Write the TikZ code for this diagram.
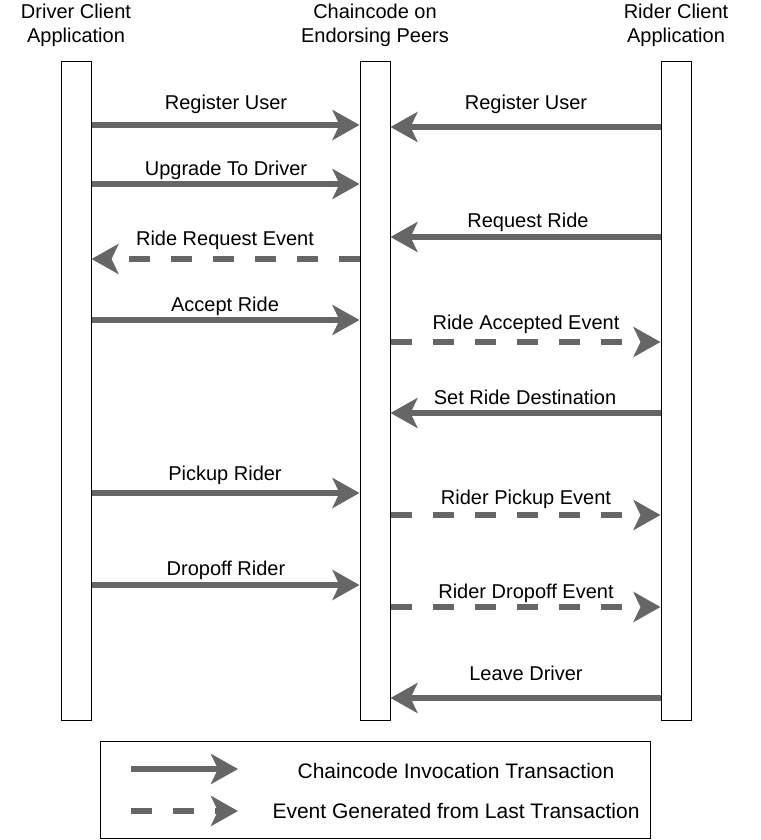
\documentclass[tikz,border=0pt]{standalone}
\usepackage{fontspec}
\setmainfont{Liberation Sans}
\usepackage{xcolor}
\usepackage{tikz}
\usetikzlibrary{arrows.meta,positioning}
\definecolor{flow}{HTML}{666666}

\begin{document}
\begin{tikzpicture}[
          x=1pt,y=-1pt,
          every node/.style={font=\fontsize{20}{24}\selectfont},
          life/.style={draw,line width=1pt,fill=white,minimum width=30pt,
                       minimum height=658pt,inner sep=0pt},
          head/.style={align=center,inner sep=0pt},
          lbl/.style={anchor=base,inner sep=0pt},
          key/.style={lbl,font=\fontsize{21}{25}\selectfont},
          call/.style={flow,line width=6pt,
                       -{Stealth[length=27pt,width=30pt,inset=7pt]}},
          event/.style={call,dash pattern=on 21pt off 21pt},
      ]
        \useasboundingbox (0,0) rectangle (760,840);

        % lifelines
        \node[life] (drv) at (76,391) {};
        \node[life] (cc) at (375,391) {};
        \node[life] (rdr) at (676,391) {};

        \node[head] (hdrv) at (76,25) {Driver Client\\Application};
        \node[head] (hcc) at (375,25) {Chaincode on\\Endorsing Peers};
        \node[head] (hrdr) at (676,25) {Rider Client\\Application};

        % messages
        \draw[call] (drv.east |- 0,125) -- (cc.west |- 0,125);
        \node[lbl] (m1) at (226,110) {Register User};
        \draw[call] (rdr.west |- 0,127) -- (cc.east |- 0,127);
        \node[lbl] (m2) at (526,110) {Register User};

        \draw[call] (drv.east |- 0,184) -- (cc.west |- 0,184);
        \node[lbl] (m3) at (226,175) {Upgrade To Driver};

        \draw[call] (rdr.west |- 0,237) -- (cc.east |- 0,237);
        \node[lbl] (m4) at (528,227) {Request Ride};
        \draw[event] (cc.west |- 0,259) -- (drv.east |- 0,259);
        \node[lbl] (m5) at (225,245) {Ride Request Event};

        \draw[call] (drv.east |- 0,320) -- (cc.west |- 0,320);
        \node[lbl] (m6) at (225,311) {Accept Ride};
        \draw[event] (cc.east |- 0,342) -- (rdr.west |- 0,342);
        \node[lbl] (m7) at (526,329) {Ride Accepted Event};

        \draw[call] (rdr.west |- 0,413) -- (cc.east |- 0,413);
        \node[lbl] (m8) at (525,404) {Set Ride Destination};

        \draw[call] (drv.east |- 0,493) -- (cc.west |- 0,493);
        \node[lbl] (m9) at (225,480) {Pickup Rider};
        \draw[event] (cc.east |- 0,515) -- (rdr.west |- 0,515);
        \node[lbl] (m10) at (526,504) {Rider Pickup Event};

        \draw[call] (drv.east |- 0,585) -- (cc.west |- 0,585);
        \node[lbl] (m11) at (226,575) {Dropoff Rider};
        \draw[event] (cc.east |- 0,607) -- (rdr.west |- 0,607);
        \node[lbl] (m12) at (526,598) {Rider Dropoff Event};

        \draw[call] (rdr.west |- 0,698) -- (cc.east |- 0,698);
        \node[lbl] (m13) at (526,680) {Leave Driver};

        % legend
        \node[draw,line width=1pt,minimum width=550pt,minimum height=97pt,
              inner sep=0pt] (lgd) at (375,789.5) {};
        \coordinate (ls1) at (131,769);
        \coordinate (le1) at (238,769);
        \coordinate (ls2) at (131,811);
        \coordinate (le2) at (238,811);
        \draw[call] (ls1) -- (le1);
        \draw[event] (ls2) -- (le2);
        \node[key] (t1) at (456,778) {Chaincode Invocation Transaction};
        \node[key] (t2) at (456,818) {Event Generated from Last Transaction};
      \end{tikzpicture}
\end{document}
